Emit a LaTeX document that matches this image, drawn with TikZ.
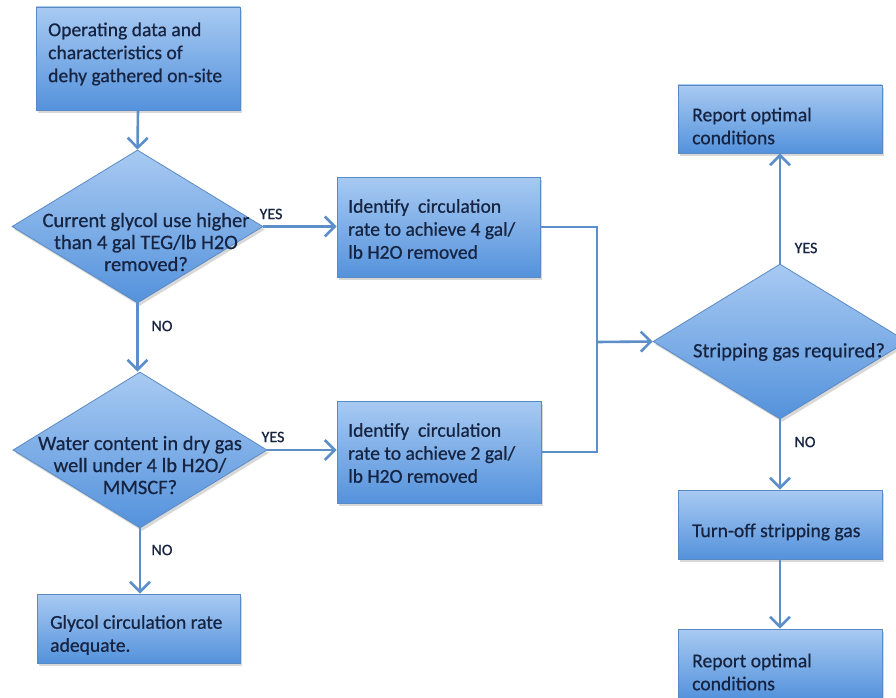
\documentclass[tikz,border=0pt]{standalone}
\usepackage{fontspec}
\setmainfont{Carlito}
\newfontfamily\heavyfont{Carlito}[FakeBold=0.6]
\usetikzlibrary{arrows.meta,shapes.geometric,shadows}
\definecolor{txtcol}{RGB}{22,36,66}
\definecolor{boxtop}{RGB}{168,202,242}
\definecolor{boxbot}{RGB}{84,146,220}
\definecolor{boxedge}{RGB}{90,138,196}
\definecolor{conncol}{RGB}{92,142,202}
\tikzset{
  shapebase/.style={draw=boxedge, line width=0.8pt, top color=boxtop, bottom color=boxbot,
    inner sep=0pt, drop shadow={opacity=0.3, shadow xshift=2pt, shadow yshift=-3pt}},
  box/.style={shapebase, rectangle},
  dia/.style={shapebase, diamond},
  btext/.style={anchor=west, align=left, text=txtcol, font=\heavyfont\fontsize{19.6}{23}\selectfont, inner sep=0pt},
  dtext/.style={align=center, text=txtcol, font=\heavyfont\fontsize{20.5}{22}\selectfont, inner sep=0pt},
  lbl/.style={text=txtcol, font=\heavyfont\fontsize{16}{18}\selectfont, inner sep=0pt},
  arrowline/.style={draw=conncol, line width=2.6pt, -{Straight Barb[length=10pt,width=20pt]}},
  plainline/.style={draw=conncol, line width=2.6pt}
}
\begin{document}
\begin{tikzpicture}[x=1pt,y=-1pt]
\clip (0,0) rectangle (896,698);
\fill[white] (0,0) rectangle (896,698);

% boxes
\node[box, minimum width=204pt, minimum height=103pt] (b1) at (138,58.5) {};
\node[box, minimum width=203pt, minimum height=100pt] (b2) at (438.5,227) {};
\node[box, minimum width=204pt, minimum height=102pt] (b3) at (439,452) {};
\node[box, minimum width=203pt, minimum height=69pt] (b4) at (138.5,628.5) {};
\node[box, minimum width=204pt, minimum height=68pt] (b5) at (780,119) {};
\node[box, minimum width=204pt, minimum height=69pt] (b6) at (780,524.5) {};
\node[box, minimum width=204pt, minimum height=70pt] (b7) at (780,664) {};

% diamonds
\node[dia, minimum width=251pt, minimum height=153pt] (d1) at (137.5,226.5) {};
\node[dia, minimum width=254pt, minimum height=156pt] (d2) at (140,450) {};
\node[dia, minimum width=254pt, minimum height=155pt] (d3) at (780,341.5) {};

% texts
\node[btext] (t1) at (48,54) {Operating data and\\characteristics of\\dehy gathered on-site};
\node[btext] (t2) at (348,229) {Identify~ circulation\\rate to achieve 4 gal/\\lb H2O removed};
\node[btext] (t3) at (348,453) {Identify~ circulation\\rate to achieve 2 gal/\\lb H2O removed};
\node[btext] (t4) at (50,635) {Glycol circulation rate\\adequate.};
\node[btext] (t5) at (692,126) {Report optimal\\conditions};
\node[btext] (t6) at (692,532) {Turn-off stripping gas};
\node[btext] (t7) at (692,672) {Report optimal\\conditions};
\node[dtext] (dt1) at (146,242) {Current glycol use higher\\than 4 gal TEG/lb H2O\\removed?};
\node[dtext] (dt2) at (140,465) {Water content in dry gas\\well under 4 lb H2O/\\MMSCF?};
\node[dtext] (dt3) at (789,352) {Stripping gas required?};

% labels
\node[lbl] (y1) at (271,214) {YES};
\node[lbl] (n1) at (162,326) {NO};
\node[lbl] (y2) at (273,437) {YES};
\node[lbl] (n2) at (162,550) {NO};
\node[lbl] (y3) at (806,248) {YES};
\node[lbl] (n3) at (805,442) {NO};

% connectors
\coordinate (m) at (597,342);
\draw[arrowline] (b1.south) -- (d1.north);
\draw[arrowline] (d1.east) -- (d1.east -| b2.west);
\draw[arrowline] (d1.south) -- (d1.south |- d2.north);
\draw[arrowline] (d2.east) -- (d2.east -| b3.west);
\draw[arrowline] (d2.south) -- (d2.south |- b4.north);
\draw[plainline] (b2.east) -| (m);
\draw[plainline] (b3.east) -| (m);
\draw[arrowline] (m) -- (d3.west);
\draw[arrowline] (d3.north) -- (b5.south);
\draw[arrowline] (d3.south) -- (b6.north);
\draw[arrowline] (b6.south) -- (b7.north);
\end{tikzpicture}
\end{document}
